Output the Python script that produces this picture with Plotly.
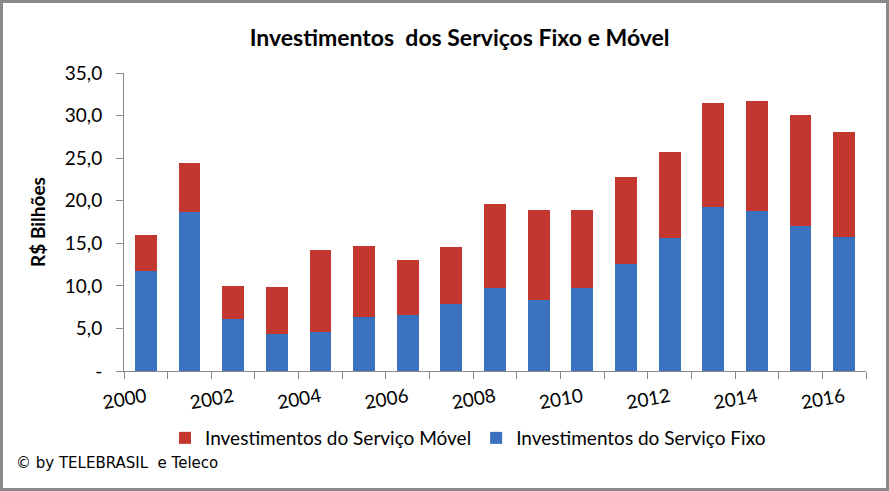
import plotly.graph_objects as go

years = list(range(2000, 2017))
fixo = [11.8, 18.7, 6.1, 4.4, 4.6, 6.3, 6.6, 7.9, 9.8, 8.3, 9.8, 12.6, 15.6, 19.3, 18.8, 17.0, 15.7]
movel = [4.2, 5.7, 3.9, 5.5, 9.6, 8.4, 6.4, 6.7, 9.8, 10.6, 9.1, 10.2, 10.1, 12.2, 12.9, 13.1, 12.4]
y_ticks = [0, 5, 10, 15, 20, 25, 30, 35]
y_labels = ["-", "5,0", "10,0", "15,0", "20,0", "25,0", "30,0", "35,0"]
x_label_years = [2000, 2002, 2004, 2006, 2008, 2010, 2012, 2014, 2016]

FONT = "Lato"
W, H = 889, 491
L, R, T, B = 124, 23, 73, 120
pw, ph = W - L - R, H - T - B

fig = go.Figure()
fig.add_trace(go.Bar(x=years, y=fixo, name="Investimentos do Serviço Fixo",
                     marker=dict(color="#3a72bf", line=dict(width=0)), width=0.5))
fig.add_trace(go.Bar(x=years, y=movel, name="Investimentos do Serviço Móvel",
                     marker=dict(color="#c4372f", line=dict(width=0)), width=0.5))

def px_x(p):
    return (p - L) / pw

def px_y(p):
    return (H - B - p) / ph

fig.update_layout(
    width=W, height=H,
    margin=dict(l=L, r=R, t=T, b=B),
    barmode="stack",
    paper_bgcolor="white", plot_bgcolor="white",
    font=dict(family=FONT, color="black"),
    title=dict(text="<b>Investimentos  dos Serviços Fixo e Móvel</b>", x=0.517, xanchor="center",
               y=1 - 38 / H, yanchor="middle", font=dict(size=23, family=FONT)),
    showlegend=True,
    legend=dict(orientation="h", traceorder="reversed", x=px_x(468), xanchor="center",
                y=px_y(438), yanchor="middle", font=dict(size=19, family=FONT),
                itemwidth=30, tracegroupgap=0),
    xaxis=dict(range=[1999.5, 2016.5], tickvals=x_label_years, ticktext=[str(v) for v in x_label_years],
               tickangle=-10, ticks="", showline=True, linecolor="#8a8a8a", linewidth=1,
               showgrid=False, zeroline=False, tickfont=dict(size=19, family=FONT),
               ticklabelstandoff=7,
               minor=dict(ticks="outside", tick0=1999.5, dtick=1, ticklen=7, tickcolor="#8a8a8a", showgrid=False)),
    yaxis=dict(range=[0, 35], tickvals=y_ticks, ticktext=y_labels, ticks="outside", ticklen=7,
               tickcolor="#8a8a8a", showline=True, linecolor="#8a8a8a", linewidth=1,
               showgrid=False, zeroline=False, tickfont=dict(size=19, family=FONT),
               ticklabelstandoff=10,
               title=dict(text="<b>R$ Bilhões</b>", font=dict(size=19, family=FONT), standoff=14)),
    shapes=[dict(type="rect", xref="paper", yref="paper",
                 x0=px_x(1.5), x1=px_x(887.5), y0=px_y(489.5), y1=px_y(1.5),
                 line=dict(color="#8a8a8a", width=3))],
    annotations=[dict(text="© by TELEBRASIL  e Teleco", xref="paper", yref="paper",
                      x=px_x(14), y=px_y(463), xanchor="left", yanchor="middle", showarrow=False,
                      font=dict(size=15, family="DejaVu Sans"))],
)

fig.write_html("out.html", config={"displayModeBar": False},
               post_script="document.body.style.margin='0';document.body.style.overflow='hidden';")
